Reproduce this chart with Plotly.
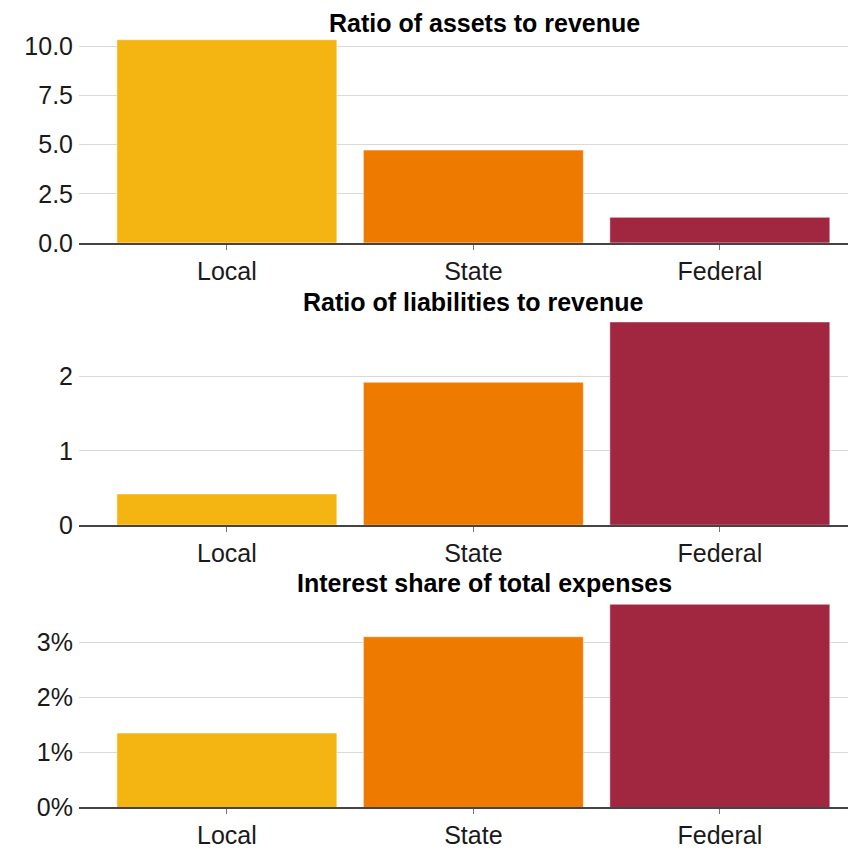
import plotly.graph_objects as go

categories = ["Local", "State", "Federal"]
assets_ratio = [10.33, 4.72, 1.30]
liabilities_ratio = [0.42, 1.92, 2.73]
interest_share_pct = [1.35, 3.10, 3.69]
titles = ["Ratio of assets to revenue", "Ratio of liabilities to revenue",
          "Interest share of total expenses"]
colors = ["#F4B512", "#EF7A00", "#A12640"]

W, H = 848, 850
L = 79
FONT = "Arial, Liberation Sans, sans-serif"

fig = go.Figure()

# panel pixel geometry in page coords: (top, bottom) of plot area
panels = [(33, 247), (319, 534), (606, 821)]
series = [assets_ratio, liabilities_ratio, interest_share_pct]
px_per_unit = [20.0, 75.7, 56.0]
ydticks = [2.5, 1, 1]
yformats = [".1f", "d", "d"]
ysuffix = ["", "", "%"]
title_pos = [(484, 23), (473, 307), (484, 593)]

for i, (vals, (top, bot)) in enumerate(zip(series, panels)):
    n = "" if i == 0 else str(i + 1)
    fig.add_trace(go.Bar(
        x=categories, y=vals,
        marker=dict(color=colors, line=dict(color="rgba(255,255,255,0.5)", width=1)),
        xaxis="x" + n, yaxis="y" + n, showlegend=False, hoverinfo="x+y"))
    dom = [(H - bot) / H, (H - top) / H]
    fig.layout["xaxis" + n] = dict(
        domain=[0, 1], anchor="y" + n, range=[-0.6, 2.52], type="category",
        showline=True, linecolor="#444444", linewidth=1.5,
        ticks="outside", ticklen=5, tickcolor="#777777", tickwidth=1,
        tickfont=dict(family=FONT, size=25, color="#1a1a1a"),
        showgrid=False, fixedrange=True)
    fig.layout["yaxis" + n] = dict(
        domain=dom, anchor="x" + n, range=[0, (bot - top) / px_per_unit[i]],
        dtick=ydticks[i], tick0=0, tickformat=yformats[i], ticksuffix=ysuffix[i],
        showgrid=True, gridcolor="#d9d9d9", gridwidth=1, zeroline=False,
        showline=False, ticks="", ticklabelstandoff=5,
        tickfont=dict(family=FONT, size=25, color="#1a1a1a"), fixedrange=True)
    tx, ty = title_pos[i]
    fig.add_annotation(
        text="<b>" + titles[i] + "</b>", xref="paper", yref="paper",
        x=(tx - L) / (W - L), y=(H - ty) / H, xanchor="center", yanchor="middle",
        showarrow=False, font=dict(family=FONT, size=25, color="#000000"))

fig.update_layout(
    width=W, height=H, margin=dict(l=L, r=0, t=0, b=0),
    paper_bgcolor="white", plot_bgcolor="white", bargap=0.1075,
    font=dict(family=FONT))

fig.write_html("out.html", config={"displayModeBar": False},
               post_script="document.body.style.margin='0';document.body.style.overflow='hidden';")
